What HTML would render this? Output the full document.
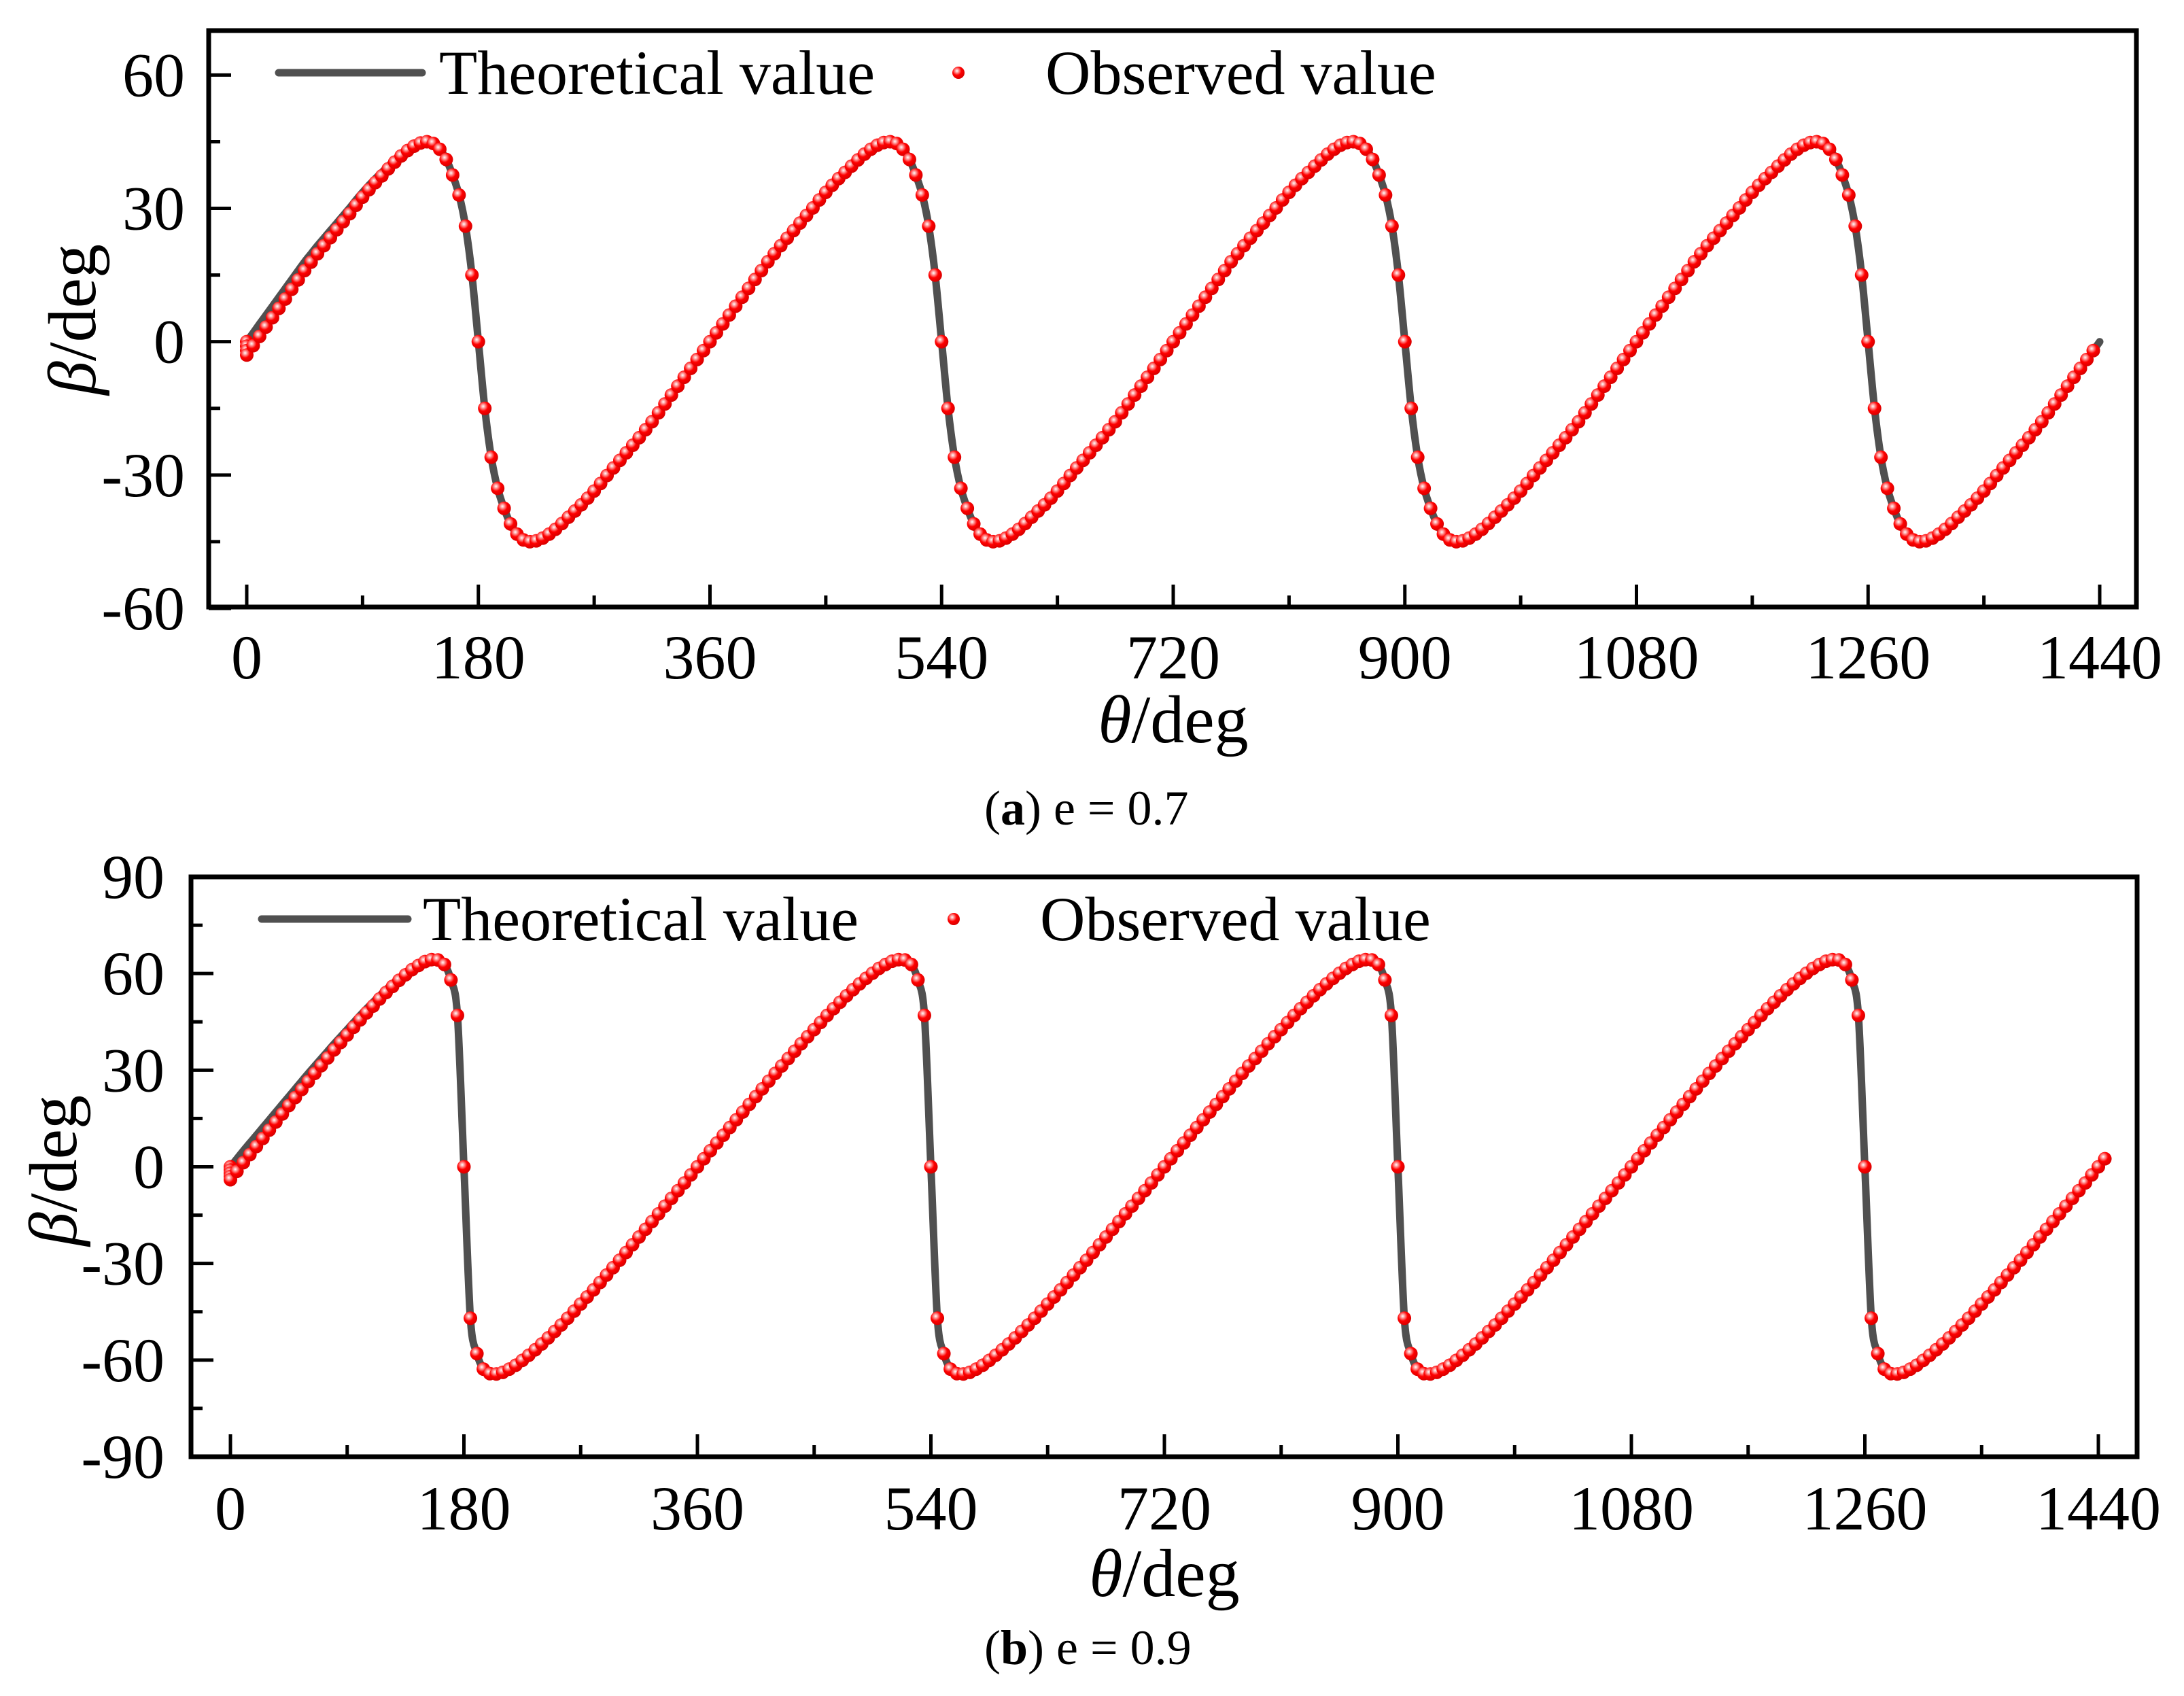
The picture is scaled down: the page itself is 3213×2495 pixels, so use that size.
<!DOCTYPE html>
<html>
<head>
<meta charset="utf-8">
<style>
html,body{margin:0;padding:0;background:#fff;}
svg{display:block;font-family:"Liberation Serif",serif;}
</style>
</head>
<body>
<svg id="fig" width="3213" height="2495" viewBox="0 0 3213 2495" xmlns="http://www.w3.org/2000/svg">
<defs>
<radialGradient id="ball" cx="0.38" cy="0.35" r="0.65">
<stop offset="0" stop-color="#ffffff"/>
<stop offset="0.22" stop-color="#ff9a9a"/>
<stop offset="0.55" stop-color="#ff0000"/>
<stop offset="1" stop-color="#d80000"/>
</radialGradient>
</defs>
<rect x="0" y="0" width="3213" height="2495" fill="#fff"/>
<g id="chartA"></g>
<g id="chartB"></g>

<text x="1726" y="1092" font-size="100" text-anchor="middle"><tspan font-style="italic">θ</tspan>/deg</text>
<text transform="translate(140,470) rotate(-90)" font-size="100" text-anchor="middle"><tspan font-style="italic">β</tspan>/deg</text>
<text x="1448" y="1213" font-size="72">(<tspan font-weight="bold">a</tspan>) e = 0.7</text>

<text x="1713" y="2348" font-size="100" text-anchor="middle"><tspan font-style="italic">θ</tspan>/deg</text>
<text transform="translate(112,1722) rotate(-90)" font-size="100" text-anchor="middle"><tspan font-style="italic">β</tspan>/deg</text>
<text x="1448" y="2448" font-size="72">(<tspan font-weight="bold">b</tspan>) e = 0.9</text>
</svg>
<script>
// ---------- Chart A data (e = 0.7) ----------
const thetaTheoA = [0,5,10,15,20,25,30,35,40,45,50,55,60,65,70,75,80,85,90,95,100,105,110,115,120,125,130,135,140,145,150,155,160,165,170,175,
180,185,190,195,200,205,210,215,220,225,230,235,240,245,250,255,260,265,270,275,280,285,290,295,300,305,310,315,320,325,330,335,340,345,350,355,
360,365,370,375,380,385,390,395,400,405,410,415,420,425,430,435,440,445,450,455,460,465,470,475,480,485,490,495,500,505,510,515,520,525,530,535,
540,545,550,555,560,565,570,575,580,585,590,595,600,605,610,615,620,625,630,635,640,645,650,655,660,665,670,675,680,685,690,695,700,705,710,715,
720,725,730,735,740,745,750,755,760,765,770,775,780,785,790,795,800,805,810,815,820,825,830,835,840,845,850,855,860,865,870,875,880,885,890,895,
900,905,910,915,920,925,930,935,940,945,950,955,960,965,970,975,980,985,990,995,1000,1005,1010,1015,1020,1025,1030,1035,1040,1045,1050,1055,1060,1065,1070,1075,
1080,1085,1090,1095,1100,1105,1110,1115,1120,1125,1130,1135,1140,1145,1150,1155,1160,1165,1170,1175,1180,1185,1190,1195,1200,1205,1210,1215,1220,1225,1230,1235,1240,1245,1250,1255,
1260,1265,1270,1275,1280,1285,1290,1295,1300,1305,1310,1315,1320,1325,1330,1335,1340,1345,1350,1355,1360,1365,1370,1375,1380,1385,1390,1395,1400,1405,1410,1415,1420,1425,1430,1435,1440];
const betaTheoA = [0,2,4,6,8,10,12,14,16,18,19.8,21.6,23.3,25,26.7,28.4,30.1,31.9,33.6,35.2,36.7,38.1,39.5,40.9,42.2,43.3,44.2,44.8,45,44.6,43.3,41,37.5,33,26,15,0,-15,-26,-33,-37.5,-41,-43.3,-44.6,-45,-44.8,-44.2,-43.3,-42.2,-40.9,-39.5,-38.1,-36.7,-35.2,-33.6,-31.9,-30.1,-28.4,-26.7,-25,-23.3,-21.6,-19.8,-18,-16,-14,-12,-10,-8,-6,-4,-2,
0,2,4,6,8,10,12,14,16,18,19.8,21.6,23.3,25,26.7,28.4,30.1,31.9,33.6,35.2,36.7,38.1,39.5,40.9,42.2,43.3,44.2,44.8,45,44.6,43.3,41,37.5,33,26,15,0,-15,-26,-33,-37.5,-41,-43.3,-44.6,-45,-44.8,-44.2,-43.3,-42.2,-40.9,-39.5,-38.1,-36.7,-35.2,-33.6,-31.9,-30.1,-28.4,-26.7,-25,-23.3,-21.6,-19.8,-18,-16,-14,-12,-10,-8,-6,-4,-2,
0,2,4,6,8,10,12,14,16,18,19.8,21.6,23.3,25,26.7,28.4,30.1,31.9,33.6,35.2,36.7,38.1,39.5,40.9,42.2,43.3,44.2,44.8,45,44.6,43.3,41,37.5,33,26,15,0,-15,-26,-33,-37.5,-41,-43.3,-44.6,-45,-44.8,-44.2,-43.3,-42.2,-40.9,-39.5,-38.1,-36.7,-35.2,-33.6,-31.9,-30.1,-28.4,-26.7,-25,-23.3,-21.6,-19.8,-18,-16,-14,-12,-10,-8,-6,-4,-2,
0,2,4,6,8,10,12,14,16,18,19.8,21.6,23.3,25,26.7,28.4,30.1,31.9,33.6,35.2,36.7,38.1,39.5,40.9,42.2,43.3,44.2,44.8,45,44.6,43.3,41,37.5,33,26,15,0,-15,-26,-33,-37.5,-41,-43.3,-44.6,-45,-44.8,-44.2,-43.3,-42.2,-40.9,-39.5,-38.1,-36.7,-35.2,-33.6,-31.9,-30.1,-28.4,-26.7,-25,-23.3,-21.6,-19.8,-18,-16,-14,-12,-10,-8,-6,-4,-2,
0];
const thetaObsA = [0,0,0,0,5,10,15,20,25,30,35,40,45,50,55,60,65,70,75,80,85,90,95,100,105,110,115,120,125,130,135,140,145,150,155,160,165,170,175,
180,185,190,195,200,205,210,215,220,225,230,235,240,245,250,255,260,265,270,275,280,285,290,295,300,305,310,315,320,325,330,335,340,345,350,355,
360,365,370,375,380,385,390,395,400,405,410,415,420,425,430,435,440,445,450,455,460,465,470,475,480,485,490,495,500,505,510,515,520,525,530,535,
540,545,550,555,560,565,570,575,580,585,590,595,600,605,610,615,620,625,630,635,640,645,650,655,660,665,670,675,680,685,690,695,700,705,710,715,
720,725,730,735,740,745,750,755,760,765,770,775,780,785,790,795,800,805,810,815,820,825,830,835,840,845,850,855,860,865,870,875,880,885,890,895,
900,905,910,915,920,925,930,935,940,945,950,955,960,965,970,975,980,985,990,995,1000,1005,1010,1015,1020,1025,1030,1035,1040,1045,1050,1055,1060,1065,1070,1075,
1080,1085,1090,1095,1100,1105,1110,1115,1120,1125,1130,1135,1140,1145,1150,1155,1160,1165,1170,1175,1180,1185,1190,1195,1200,1205,1210,1215,1220,1225,1230,1235,1240,1245,1250,1255,
1260,1265,1270,1275,1280,1285,1290,1295,1300,1305,1310,1315,1320,1325,1330,1335,1340,1345,1350,1355,1360,1365,1370,1375,1380,1385,1390,1395,1400,1405,1410,1415,1420,1425,1430,1435];
const betaObsA = [0,-1,-2,-3,-0.9,1.2,3.3,5.4,7.5,9.6,11.8,13.9,16,17.9,19.8,21.6,23.4,25.2,27,28.8,30.7,32.5,34.2,35.8,37.3,38.9,40.4,41.8,43,44,44.7,45,44.6,43.3,41,37.5,33,26,15,0,-15,-26,-33,-37.5,-41,-43.3,-44.6,-45,-44.8,-44.2,-43.3,-42.2,-40.9,-39.5,-38.1,-36.7,-35.2,-33.6,-31.9,-30.1,-28.4,-26.7,-25,-23.3,-21.6,-19.8,-18,-16,-14,-12,-10,-8,-6,-4,-2,
0,2,4,6,8,10,12,14,16,18,19.8,21.6,23.3,25,26.7,28.4,30.1,31.9,33.6,35.2,36.7,38.1,39.5,40.9,42.2,43.3,44.2,44.8,45,44.6,43.3,41,37.5,33,26,15,0,-15,-26,-33,-37.5,-41,-43.3,-44.6,-45,-44.8,-44.2,-43.3,-42.2,-40.9,-39.5,-38.1,-36.7,-35.2,-33.6,-31.9,-30.1,-28.4,-26.7,-25,-23.3,-21.6,-19.8,-18,-16,-14,-12,-10,-8,-6,-4,-2,
0,2,4,6,8,10,12,14,16,18,19.8,21.6,23.3,25,26.7,28.4,30.1,31.9,33.6,35.2,36.7,38.1,39.5,40.9,42.2,43.3,44.2,44.8,45,44.6,43.3,41,37.5,33,26,15,0,-15,-26,-33,-37.5,-41,-43.3,-44.6,-45,-44.8,-44.2,-43.3,-42.2,-40.9,-39.5,-38.1,-36.7,-35.2,-33.6,-31.9,-30.1,-28.4,-26.7,-25,-23.3,-21.6,-19.8,-18,-16,-14,-12,-10,-8,-6,-4,-2,
0,2,4,6,8,10,12,14,16,18,19.8,21.6,23.3,25,26.7,28.4,30.1,31.9,33.6,35.2,36.7,38.1,39.5,40.9,42.2,43.3,44.2,44.8,45,44.6,43.3,41,37.5,33,26,15,0,-15,-26,-33,-37.5,-41,-43.3,-44.6,-45,-44.8,-44.2,-43.3,-42.2,-40.9,-39.5,-38.1,-36.7,-35.2,-33.6,-31.9,-30.1,-28.4,-26.7,-25,-23.3,-21.6,-19.8,-18,-16,-14,-12,-10,-8,-6,-4,-2];
const xTicksA = [0,180,360,540,720,900,1080,1260,1440];
const yTicksA = [60,30,0,-30,-60];
const yMinorA = [45,15,-15,-45];

// ---------- Chart B data (e = 0.9) ----------
const thetaTheoB = thetaTheoA.slice();
const betaTheoB = [0,2.5,5,7.4,9.8,12.2,14.6,17,19.4,21.8,24.2,26.6,29,31.3,33.6,35.9,38.2,40.4,42.6,44.8,47,49.1,51.1,53.1,55,56.8,58.5,60.1,61.6,62.8,63.8,64.3,64.2,62.8,58,47,0,-47,-58,-62.8,-64.2,-64.3,-63.8,-62.8,-61.6,-60.1,-58.5,-56.8,-55,-53.1,-51.1,-49.1,-47,-44.8,-42.6,-40.4,-38.2,-35.9,-33.6,-31.3,-29,-26.6,-24.2,-21.8,-19.4,-17,-14.6,-12.2,-9.8,-7.4,-5,-2.5,
0,2.5,5,7.4,9.8,12.2,14.6,17,19.4,21.8,24.2,26.6,29,31.3,33.6,35.9,38.2,40.4,42.6,44.8,47,49.1,51.1,53.1,55,56.8,58.5,60.1,61.6,62.8,63.8,64.3,64.2,62.8,58,47,0,-47,-58,-62.8,-64.2,-64.3,-63.8,-62.8,-61.6,-60.1,-58.5,-56.8,-55,-53.1,-51.1,-49.1,-47,-44.8,-42.6,-40.4,-38.2,-35.9,-33.6,-31.3,-29,-26.6,-24.2,-21.8,-19.4,-17,-14.6,-12.2,-9.8,-7.4,-5,-2.5,
0,2.5,5,7.4,9.8,12.2,14.6,17,19.4,21.8,24.2,26.6,29,31.3,33.6,35.9,38.2,40.4,42.6,44.8,47,49.1,51.1,53.1,55,56.8,58.5,60.1,61.6,62.8,63.8,64.3,64.2,62.8,58,47,0,-47,-58,-62.8,-64.2,-64.3,-63.8,-62.8,-61.6,-60.1,-58.5,-56.8,-55,-53.1,-51.1,-49.1,-47,-44.8,-42.6,-40.4,-38.2,-35.9,-33.6,-31.3,-29,-26.6,-24.2,-21.8,-19.4,-17,-14.6,-12.2,-9.8,-7.4,-5,-2.5,
0,2.5,5,7.4,9.8,12.2,14.6,17,19.4,21.8,24.2,26.6,29,31.3,33.6,35.9,38.2,40.4,42.6,44.8,47,49.1,51.1,53.1,55,56.8,58.5,60.1,61.6,62.8,63.8,64.3,64.2,62.8,58,47,0,-47,-58,-62.8,-64.2,-64.3,-63.8,-62.8,-61.6,-60.1,-58.5,-56.8,-55,-53.1,-51.1,-49.1,-47,-44.8,-42.6,-40.4,-38.2,-35.9,-33.6,-31.3,-29,-26.6,-24.2,-21.8,-19.4,-17,-14.6,-12.2,-9.8,-7.4,-5,-2.5,
0.5];
const thetaObsB = [0,0,0,0,0,5,10,15,20,25,30,35,40,45,50,55,60,65,70,75,80,85,90,95,100,105,110,115,120,125,130,135,140,145,150,155,160,165,170,175,
180,185,190,195,200,205,210,215,220,225,230,235,240,245,250,255,260,265,270,275,280,285,290,295,300,305,310,315,320,325,330,335,340,345,350,355,
360,365,370,375,380,385,390,395,400,405,410,415,420,425,430,435,440,445,450,455,460,465,470,475,480,485,490,495,500,505,510,515,520,525,530,535,
540,545,550,555,560,565,570,575,580,585,590,595,600,605,610,615,620,625,630,635,640,645,650,655,660,665,670,675,680,685,690,695,700,705,710,715,
720,725,730,735,740,745,750,755,760,765,770,775,780,785,790,795,800,805,810,815,820,825,830,835,840,845,850,855,860,865,870,875,880,885,890,895,
900,905,910,915,920,925,930,935,940,945,950,955,960,965,970,975,980,985,990,995,1000,1005,1010,1015,1020,1025,1030,1035,1040,1045,1050,1055,1060,1065,1070,1075,
1080,1085,1090,1095,1100,1105,1110,1115,1120,1125,1130,1135,1140,1145,1150,1155,1160,1165,1170,1175,1180,1185,1190,1195,1200,1205,1210,1215,1220,1225,1230,1235,1240,1245,1250,1255,
1260,1265,1270,1275,1280,1285,1290,1295,1300,1305,1310,1315,1320,1325,1330,1335,1340,1345,1350,1355,1360,1365,1370,1375,1380,1385,1390,1395,1400,1405,1410,1415,1420,1425,1430,1435,1440,1445];
const betaObsB = [0,-1,-2,-3,-4,-1.4,1.3,3.8,6.3,8.8,11.4,13.9,16.4,19,21.5,24,26.5,29,31.4,33.8,36.3,38.6,40.9,43.3,45.6,47.8,49.9,52.1,54.1,56,57.9,59.6,61.2,62.5,63.7,64.3,64.2,62.8,58,47,0,-47,-58,-62.8,-64.2,-64.3,-63.8,-62.8,-61.6,-60.1,-58.5,-56.8,-55,-53.1,-51.1,-49.1,-47,-44.8,-42.6,-40.4,-38.2,-35.9,-33.6,-31.3,-29,-26.6,-24.2,-21.8,-19.4,-17,-14.6,-12.2,-9.8,-7.4,-5,-2.5,
0,2.5,5,7.4,9.8,12.2,14.6,17,19.4,21.8,24.2,26.6,29,31.3,33.6,35.9,38.2,40.4,42.6,44.8,47,49.1,51.1,53.1,55,56.8,58.5,60.1,61.6,62.8,63.8,64.3,64.2,62.8,58,47,0,-47,-58,-62.8,-64.2,-64.3,-63.8,-62.8,-61.6,-60.1,-58.5,-56.8,-55,-53.1,-51.1,-49.1,-47,-44.8,-42.6,-40.4,-38.2,-35.9,-33.6,-31.3,-29,-26.6,-24.2,-21.8,-19.4,-17,-14.6,-12.2,-9.8,-7.4,-5,-2.5,
0,2.5,5,7.4,9.8,12.2,14.6,17,19.4,21.8,24.2,26.6,29,31.3,33.6,35.9,38.2,40.4,42.6,44.8,47,49.1,51.1,53.1,55,56.8,58.5,60.1,61.6,62.8,63.8,64.3,64.2,62.8,58,47,0,-47,-58,-62.8,-64.2,-64.3,-63.8,-62.8,-61.6,-60.1,-58.5,-56.8,-55,-53.1,-51.1,-49.1,-47,-44.8,-42.6,-40.4,-38.2,-35.9,-33.6,-31.3,-29,-26.6,-24.2,-21.8,-19.4,-17,-14.6,-12.2,-9.8,-7.4,-5,-2.5,
0,2.5,5,7.4,9.8,12.2,14.6,17,19.4,21.8,24.2,26.6,29,31.3,33.6,35.9,38.2,40.4,42.6,44.8,47,49.1,51.1,53.1,55,56.8,58.5,60.1,61.6,62.8,63.8,64.3,64.2,62.8,58,47,0,-47,-58,-62.8,-64.2,-64.3,-63.8,-62.8,-61.6,-60.1,-58.5,-56.8,-55,-53.1,-51.1,-49.1,-47,-44.8,-42.6,-40.4,-38.2,-35.9,-33.6,-31.3,-29,-26.6,-24.2,-21.8,-19.4,-17,-14.6,-12.2,-9.8,-7.4,-5,-2.5,
0,2.5];
const xTicksB = [0,180,360,540,720,900,1080,1260,1440];
const yTicksB = [90,60,30,0,-30,-60,-90];
const yMinorB = [75,45,15,-15,-45,-75];

const NS = 'http://www.w3.org/2000/svg';
function el(tag, parent){ const e = document.createElementNS(NS, tag); parent.appendChild(e); return e; }

function smoothPath(pts){
  let d = 'M' + pts[0][0].toFixed(1) + ',' + pts[0][1].toFixed(1);
  for (let i = 0; i < pts.length - 1; i++){
    const p0 = pts[Math.max(0, i-1)], p1 = pts[i], p2 = pts[i+1], p3 = pts[Math.min(pts.length-1, i+2)];
    const t = 0.16;
    const c1x = p1[0] + (p2[0]-p0[0])*t, c1y = p1[1] + (p2[1]-p0[1])*t;
    const c2x = p2[0] - (p3[0]-p1[0])*t, c2y = p2[1] - (p3[1]-p1[1])*t;
    d += 'C' + c1x.toFixed(1) + ',' + c1y.toFixed(1) + ' ' + c2x.toFixed(1) + ',' + c2y.toFixed(1) + ' ' + p2[0].toFixed(1) + ',' + p2[1].toFixed(1);
  }
  return d;
}

function drawChart(cfg){
  const g = document.getElementById(cfg.id);
  const sx = v => cfg.x0 + (v - 0) * (cfg.x1440 - cfg.x0) / 1440;
  const sy = v => cfg.yTop + (cfg.yMax - v) * (cfg.yBot - cfg.yTop) / (cfg.yMax - cfg.yMin);

  cfg.xTicks.forEach((v, i) => {
    const t = el('line', g);
    
    
    t.setAttribute('x1', sx(v)); t.setAttribute('x2', sx(v));
    t.setAttribute('y1', cfg.yBot); t.setAttribute('y2', cfg.yBot - 33);
    t.setAttribute('stroke', '#000'); t.setAttribute('stroke-width', 5);
    const lb = el('text', g);
    
    
    lb.setAttribute('x', sx(v)); lb.setAttribute('y', cfg.xLabelY);
    lb.setAttribute('font-size', 92); lb.setAttribute('text-anchor', 'middle');
    lb.textContent = String(v);
    if (i < cfg.xTicks.length - 1){
      const m = el('line', g);
      
      
      const mv = (v + cfg.xTicks[i+1]) / 2;
      m.setAttribute('x1', sx(mv)); m.setAttribute('x2', sx(mv));
      m.setAttribute('y1', cfg.yBot); m.setAttribute('y2', cfg.yBot - 17);
      m.setAttribute('stroke', '#000'); m.setAttribute('stroke-width', 5);
    }
  });
  cfg.yTicks.forEach(v => {
    const t = el('line', g);
    
    
    t.setAttribute('x1', cfg.left); t.setAttribute('x2', cfg.left + 33);
    t.setAttribute('y1', sy(v)); t.setAttribute('y2', sy(v));
    t.setAttribute('stroke', '#000'); t.setAttribute('stroke-width', 5);
    const lb = el('text', g);
    
    
    lb.setAttribute('x', cfg.yLabelX); lb.setAttribute('y', sy(v) + 31);
    lb.setAttribute('font-size', 92); lb.setAttribute('text-anchor', 'end');
    lb.textContent = String(v);
  });
  cfg.yMinor.forEach(v => {
    const t = el('line', g);
    
    
    t.setAttribute('x1', cfg.left); t.setAttribute('x2', cfg.left + 17);
    t.setAttribute('y1', sy(v)); t.setAttribute('y2', sy(v));
    t.setAttribute('stroke', '#000'); t.setAttribute('stroke-width', 5);
  });

  const pts = cfg.thetaTheo.map((t, i) => [sx(t), sy(cfg.betaTheo[i])]);
  const path = el('path', g);
  
  
  path.setAttribute('d', smoothPath(pts));
  path.setAttribute('fill', 'none'); path.setAttribute('stroke', '#505050');
  path.setAttribute('stroke-width', 11); path.setAttribute('stroke-linecap', 'round'); path.setAttribute('stroke-linejoin', 'round');

  cfg.thetaObs.forEach((t, i) => {
    const c = el('circle', g);
    
    
    c.setAttribute('cx', sx(t)); c.setAttribute('cy', sy(cfg.betaObs[i]));
    c.setAttribute('r', 10); c.setAttribute('fill', 'url(#ball)');
  });

  const fr = el('rect', g);
  
  
  fr.setAttribute('x', cfg.left); fr.setAttribute('y', cfg.yTop);
  fr.setAttribute('width', cfg.right - cfg.left); fr.setAttribute('height', cfg.yBot - cfg.yTop);
  fr.setAttribute('fill', 'none'); fr.setAttribute('stroke', '#000'); fr.setAttribute('stroke-width', 7);

  const ll = el('line', g);
  
  
  ll.setAttribute('x1', cfg.legLineX1); ll.setAttribute('x2', cfg.legLineX2);
  ll.setAttribute('y1', cfg.legY); ll.setAttribute('y2', cfg.legY);
  ll.setAttribute('stroke', '#505050'); ll.setAttribute('stroke-width', 11); ll.setAttribute('stroke-linecap', 'round');
  const lt = el('text', g);
  
  
  lt.setAttribute('x', cfg.legText1X); lt.setAttribute('y', cfg.legY + 31); lt.setAttribute('font-size', 92);
  lt.textContent = 'Theoretical value';
  const lm = el('circle', g);
  
  
  lm.setAttribute('cx', cfg.legMarkX); lm.setAttribute('cy', cfg.legY); lm.setAttribute('r', 9); lm.setAttribute('fill', 'url(#ball)');
  const lo = el('text', g);
  
  
  lo.setAttribute('x', cfg.legText2X); lo.setAttribute('y', cfg.legY + 31); lo.setAttribute('font-size', 92);
  lo.textContent = 'Observed value';
}

drawChart({id:'chartA', x0:363, x1440:3089, left:307, right:3143, yTop:45, yBot:893, yMax:70, yMin:-59.7,
  thetaTheo:thetaTheoA, betaTheo:betaTheoA, thetaObs:thetaObsA, betaObs:betaObsA,
  xTicks:xTicksA, yTicks:yTicksA, yMinor:yMinorA, xLabelY:998, yLabelX:272,
  legY:107, legLineX1:410, legLineX2:621, legText1X:646, legMarkX:1410, legText2X:1538});
drawChart({id:'chartB', x0:339, x1440:3087, left:281, right:3144, yTop:1290, yBot:2143, yMax:90, yMin:-90,
  thetaTheo:thetaTheoB, betaTheo:betaTheoB, thetaObs:thetaObsB, betaObs:betaObsB,
  xTicks:xTicksB, yTicks:yTicksB, yMinor:yMinorB, xLabelY:2250, yLabelX:242,
  legY:1352, legLineX1:385, legLineX2:600, legText1X:622, legMarkX:1403, legText2X:1530});
</script>
</body>
</html>
